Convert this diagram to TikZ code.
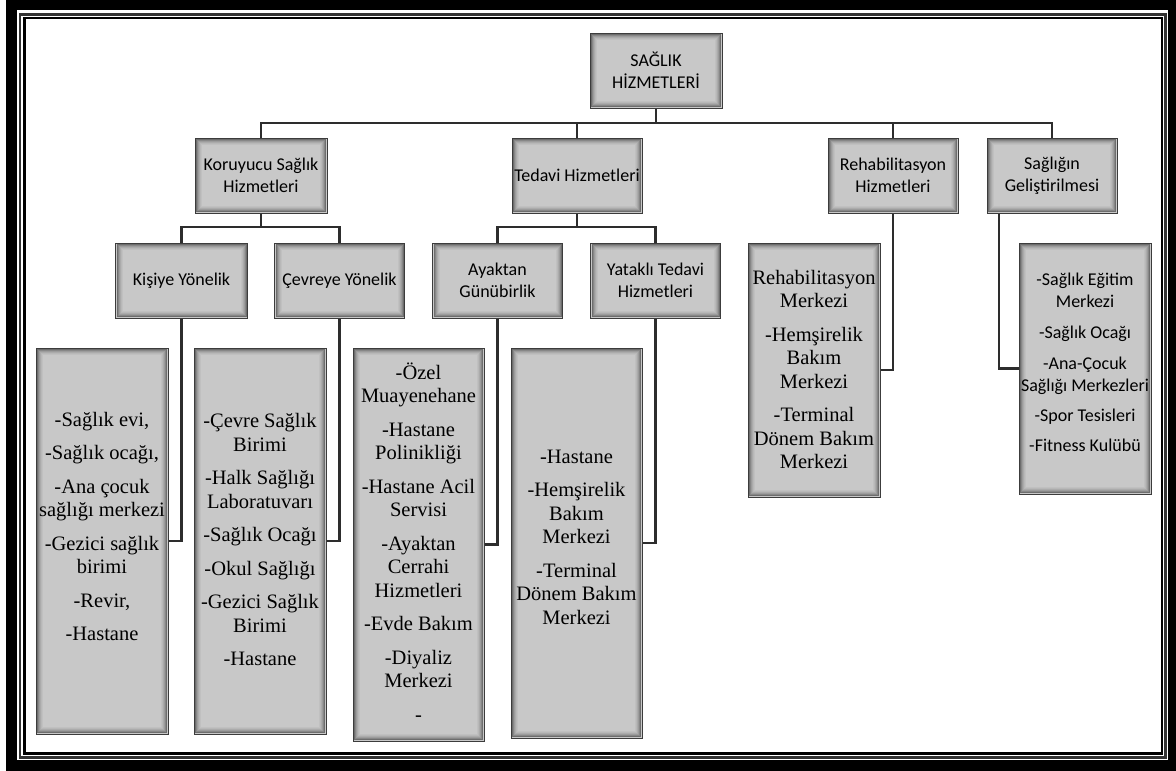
\documentclass[tikz,border=0pt]{standalone}
\usepackage{fontspec}
\setmainfont{Liberation Serif}
\newfontfamily\calibfont{Carlito}
\definecolor{boxfill}{RGB}{200,200,200}
\definecolor{boxedge}{RGB}{60,60,60}
\definecolor{linkcol}{RGB}{45,45,45}
\tikzset{
  shade box/.style={draw=boxedge, line width=1pt, fill=boxfill, inner sep=0pt, align=center,
    path picture={
      \foreach \d/\o in {1.5/0.45,2.5/0.32,3.5/0.22,4.5/0.14,5.5/0.08,6.5/0.04}{
        \draw[black, opacity=\o, line width=1pt]
          ([xshift=\d, yshift=\d]path picture bounding box.south west) rectangle
          ([xshift=-\d, yshift=-\d]path picture bounding box.north east);
      }}},
  headbox/.style={shade box, minimum width=130, minimum height=75,
    font=\calibfont\fontsize{18}{22}\selectfont},
  leafbox/.style={shade box, minimum width=132},
  leaftext/.style={inner sep=0pt, align=center, font=\fontsize{20.5}{23.5}\selectfont},
  leafsans/.style={inner sep=0pt, align=center, font=\calibfont\fontsize{18}{22}\selectfont},
  link/.style={draw=linkcol, line width=2.6pt, line join=miter},
}
\begin{document}
\begin{tikzpicture}[x=1pt,y=-1pt]
\useasboundingbox (0,0) rectangle (1176,771);
% double-ruled frame inside a heavy black border
\fill[white] (0,0) rectangle (1176,771);
\fill[black] (6,0) rectangle (1176,771);
\fill[white] (17,10) rectangle (1168,760);
\draw[black!80, line width=2.4pt] (20,14.5) rectangle (1165.5,757.5);
\draw[black, line width=2.2pt] (24.5,18.3) rectangle (1162,753.5);

% root
\node[headbox, minimum width=132] (root) at (656,70.5) {SAĞLIK\\HİZMETLERİ};

% first level
\node[headbox, minimum width=132] (kor) at (261,175.5) {Koruyucu Sağlık\\Hizmetleri};
\node[headbox] (ted) at (577,175.5) {Tedavi Hizmetleri};
\node[headbox] (reh) at (893,175.5) {Rehabilitasyon\\Hizmetleri};
\node[headbox] (sag) at (1052,175.5) {Sağlığın\\Geliştirilmesi};

% second level
\node[headbox, minimum width=132] (kis) at (181.5,280.5) {Kişiye Yönelik};
\node[headbox] (cev) at (339.5,280.5) {Çevreye Yönelik};
\node[headbox] (aya) at (497.5,280.5) {Ayaktan\\Günübirlik};
\node[headbox] (yat) at (655.5,280.5) {Yataklı Tedavi\\Hizmetleri};

% leaf boxes
\node[leafbox, minimum height=386] (kl) at (102,541) {};
\node[leafbox, minimum height=386] (cl) at (260,541) {};
\node[leafbox, minimum width=131, minimum height=393] (al) at (418.5,544.5) {};
\node[leafbox, minimum width=131, minimum height=390] (yl) at (576.5,543) {};
\node[leafbox, minimum height=254] (rl) at (814,370) {};
\node[leafbox, minimum height=251] (sl) at (1085,368.5) {};

% leaf contents
\node[leaftext] (klt) at (102,526.5) {-Sağlık evi,\\[10pt]-Sağlık ocağı,\\[10pt]-Ana çocuk\\sağlığı merkezi\\[10pt]-Gezici sağlık\\birimi\\[10pt]-Revir,\\[10pt]-Hastane};
\node[leaftext] (clt) at (260,539.5) {-Çevre Sağlık\\Birimi\\[10pt]-Halk Sağlığı\\Laboratuvarı\\[10pt]-Sağlık Ocağı\\[10pt]-Okul Sağlığı\\[10pt]-Gezici Sağlık\\Birimi\\[10pt]-Hastane};
\node[leaftext] (alt) at (418.5,542) {-Özel\\Muayenehane\\[10pt]-Hastane\\Polinikliği\\[10pt]-Hastane Acil\\Servisi\\[10pt]-Ayaktan\\Cerrahi\\Hizmetleri\\[10pt]-Evde Bakım\\[10pt]-Diyaliz\\Merkezi\\[10pt]-};
\node[leaftext] (ylt) at (576.5,537) {-Hastane\\[10pt]-Hemşirelik\\Bakım\\Merkezi\\[10pt]-Terminal\\Dönem Bakım\\Merkezi};
\node[leaftext] (rlt) at (814,369.5) {Rehabilitasyon\\Merkezi\\[10pt]-Hemşirelik\\Bakım\\Merkezi\\[10pt]-Terminal\\Dönem Bakım\\Merkezi};
\node[leafsans] (slt) at (1085,362.5) {-Sağlık Eğitim\\Merkezi\\[9pt]-Sağlık Ocağı\\[9pt]-Ana-Çocuk\\Sağlığı Merkezleri\\[8pt]-Spor Tesisleri\\[8pt]-Fitness Kulübü};

% connectors
\coordinate (topbus) at (656,123);
\draw[link] (root.south) -- (topbus);
\draw[link] (kor.north) |- (topbus) -| (sag.north);
\draw[link] (ted.north) -- (ted.north |- topbus);
\draw[link] (reh.north) -- (reh.north |- topbus);

\coordinate (kbus) at (261,227);
\draw[link] (kor.south) -- (kbus);
\draw[link] (kis.north) |- (kbus) -| (cev.north);

\coordinate (tbus) at (577,227);
\draw[link] (ted.south) -- (tbus);
\draw[link] (aya.north) |- (tbus) -| (yat.north);

\draw[link] (kis.south) |- (kl.east);
\draw[link] (cev.south) |- (cl.east);
\draw[link] (aya.south) |- (al.east);
\draw[link] (yat.south) |- (yl.east);
\draw[link] (reh.south) |- (rl.east);
\draw[link] ([xshift=-53pt]sag.south) |- (sl.west);
\end{tikzpicture}
\end{document}
